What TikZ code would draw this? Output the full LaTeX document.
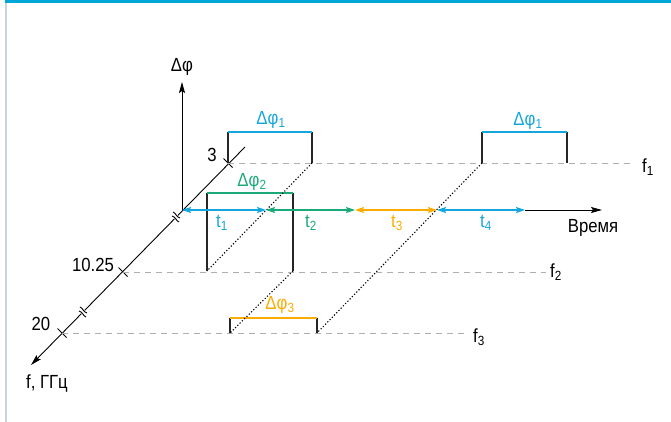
\documentclass[tikz,border=0pt]{standalone}
\usepackage{fontspec}
\setmainfont{Liberation Sans}[FakeStretch=0.88]
\usetikzlibrary{arrows.meta, calc}
\definecolor{bandblue}{RGB}{0,166,214}
\definecolor{framegrey}{RGB}{200,210,220}
\definecolor{cyanline}{RGB}{20,166,220}
\definecolor{greenline}{RGB}{26,170,120}
\definecolor{orangeline}{RGB}{250,172,0}
\definecolor{levelgrey}{RGB}{175,175,175}

\begin{document}
\begin{tikzpicture}[
        x=1pt, y=-1pt,
        every node/.style={font=\fontsize{19}{22}\selectfont, inner sep=1pt},
        axis/.style={-{Stealth[length=11pt,width=6pt,inset=2pt]}, line width=0.9pt},
        level/.style={levelgrey, dash pattern=on 6pt off 5pt, line width=0.8pt},
        edge/.style={line width=1.1pt, black!85},
        trace/.style={dash pattern=on 1.2pt off 2pt, line width=1.1pt},
        span/.style={{Stealth[length=9pt,width=6pt,inset=1.5pt]}-{Stealth[length=9pt,width=6pt,inset=1.5pt]}, line width=1.1pt},
        tickmark/.style={line width=0.9pt},
    ]
    \useasboundingbox (0,0) rectangle (671,422);
    % frame
    \fill[bandblue] (5,0) rectangle (671,3);
    \draw[framegrey, line width=1.5pt] (6,3) -- (6,422);

    % axes
    \coordinate (O) at (182,210);
    \coordinate (ytip) at (182,82);
    \coordinate (ftop) at (245,147);
    \coordinate (ftip) at (31,365);
    \draw[axis] (O) -- (ytip);
    \draw[axis] (ftop) -- (ftip);
    \node (dphi) at (182,67) {Δφ};
    \node (flabel) at (47,384) {f, ГГц};

    % frequency ticks
    \coordinate (tick3) at (228,163);
    \coordinate (tick10) at (123,272);
    \coordinate (tick20) at (62,333);
    \foreach \p in {tick3,tick10,tick20}
        \draw[tickmark] ($(\p)+(-4.5,-4.5)$) -- ($(\p)+(4.5,4.5)$);
    \node (lab3) at (212,155) {3};
    \node (lab10) at (93,265) {10.25};
    \node (lab20) at (41,324) {20};

    % axis breaks
    \coordinate (brk1) at (176,217);
    \coordinate (brk2) at (83,312);
    \foreach \p in {brk1,brk2} {
        \draw[white, line width=3pt] ($(\p)+(1.6,-1.6)$) -- ($(\p)+(-1.6,1.6)$);
        \draw[tickmark] ($(\p)+(-3,-5)$) .. controls ($(\p)+(0,-4)$) and ($(\p)+(0,0)$) .. ($(\p)+(4,1)$);
        \draw[tickmark] ($(\p)+(-4,-1)$) .. controls ($(\p)+(0,0)$) and ($(\p)+(0,4)$) .. ($(\p)+(3,5)$);
    }

    % frequency levels
    \coordinate (f1end) at (634,163);
    \coordinate (f2end) at (546,272);
    \coordinate (f3end) at (467,333);
    \draw[level] (tick3) -- (f1end);
    \draw[level] (tick10) -- (f2end);
    \draw[level] (tick20) -- (f3end);
    \node (f1) at (648,167) {f\textsubscript{1}};
    \node (f2) at (556,272) {f\textsubscript{2}};
    \node (f3) at (479,337) {f\textsubscript{3}};

    % pulses
    \coordinate (a1) at (228,163); \coordinate (a2) at (228,132);
    \coordinate (a3) at (312,132); \coordinate (a4) at (312,163);
    \coordinate (b1) at (207,271); \coordinate (b2) at (207,193);
    \coordinate (b3) at (293,193); \coordinate (b4) at (293,271);
    \coordinate (c1) at (230,333); \coordinate (c2) at (230,318);
    \coordinate (c3) at (317,318); \coordinate (c4) at (317,333);
    \coordinate (d1) at (482,163); \coordinate (d2) at (482,132);
    \coordinate (d3) at (567,132); \coordinate (d4) at (567,163);
    \draw[edge] (a1) -- (a2) (a3) -- (a4);
    \draw[edge] (b1) -- (b2) (b3) -- (b4);
    \draw[edge] (c1) -- (c2) (c3) -- (c4);
    \draw[edge] (d1) -- (d2) (d3) -- (d4);
    \draw[cyanline, line width=1.4pt] (a2) -- (a3);
    \draw[greenline, line width=1.4pt] (b2) -- (b3);
    \draw[orangeline, line width=1.4pt] (c2) -- (c3);
    \draw[cyanline, line width=1.4pt] (d2) -- (d3);
    \node[cyanline] (dphi1) at (271,120) {Δφ\textsubscript{1}};
    \node[greenline] (dphi2) at (252,182) {Δφ\textsubscript{2}};
    \node[orangeline] (dphi3) at (280,305) {Δφ\textsubscript{3}};
    \node[cyanline] (dphi1b) at (528,121) {Δφ\textsubscript{1}};

    % transitions
    \draw[trace] (a4) -- (b1);
    \draw[trace] (b4) -- (c1);
    \draw[trace] (d1) -- (c4);

    % time axis
    \coordinate (T1) at (266,210);
    \coordinate (T2) at (355,210);
    \coordinate (T3) at (437,210);
    \coordinate (T4) at (525,210);
    \coordinate (tend) at (602,210);
    \draw[axis] (T4) -- (tend);
    \draw[span, cyanline] (O) -- (T1);
    \draw[span, greenline] (T1) -- (T2);
    \draw[span, orangeline] (T2) -- (T3);
    \draw[span, cyanline] (T3) -- (T4);
    \node[cyanline] (t1) at (222,223) {t\textsubscript{1}};
    \node[greenline] (t2) at (311,223) {t\textsubscript{2}};
    \node[orangeline] (t3) at (397,223) {t\textsubscript{3}};
    \node[cyanline] (t4) at (486,223) {t\textsubscript{4}};
    \node (time) at (593,228) {Время};
\end{tikzpicture}
\end{document}
